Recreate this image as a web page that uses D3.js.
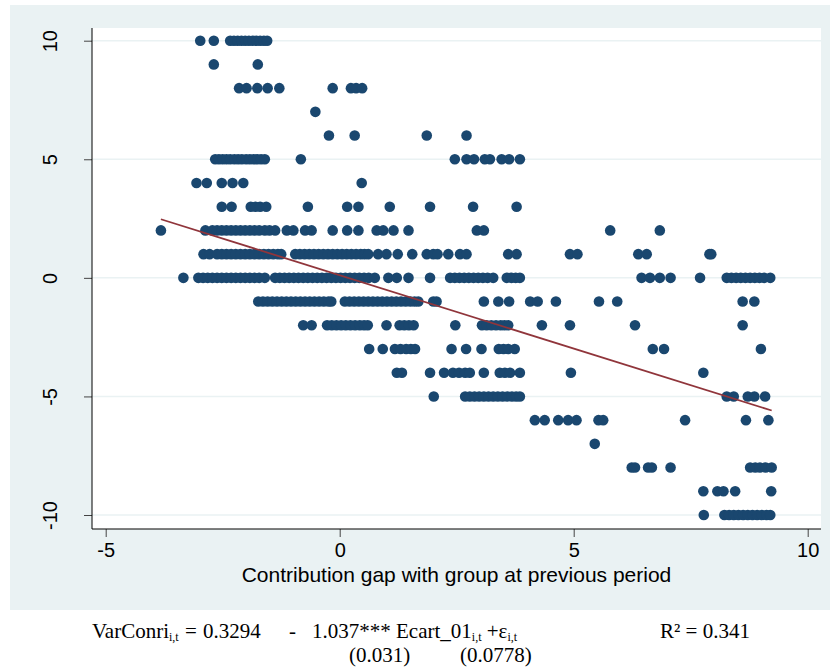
<!DOCTYPE html>
<html lang="en">
<head>
<meta charset="utf-8">
<title>Contribution gap scatter</title>
<style>
body { margin:0; background:#fff; }
text { font-family:"Liberation Sans", Arial, sans-serif; }
.eq { font-family:"Liberation Serif", "Times New Roman", serif; font-size:21px; fill:#000; }
</style>
<script src="https://cdnjs.cloudflare.com/ajax/libs/d3/7.8.5/d3.min.js"></script>
</head>
<body>
<script>
// Observed contribution change (y) by contribution gap (x), one array per y level
var yLevels = [10, 9, 8, 7, 6, 5, 4, 3, 2, 1, 0, -1, -2, -3, -4, -5, -6, -7, -8, -9, -10];
var gapAt = {};
gapAt[10] = [-2.98, -2.69, -2.34, -2.26, -2.18, -2.1, -2.02, -1.94, -1.86, -1.78, -1.7, -1.62, -1.55];
gapAt[9] = [-2.69, -1.75];
gapAt[8] = [-2.15, -1.99, -1.76, -1.54, -1.29, -0.15, 0.24, 0.35, 0.48];
gapAt[7] = [-0.52];
gapAt[6] = [-0.23, 0.32, 1.86, 2.71];
gapAt[5] = [-2.66, -2.58, -2.5, -2.42, -2.34, -2.25, -2.17, -2.09, -2.0, -1.92, -1.84, -1.76, -1.68, -1.6,
            -0.83, 2.46, 2.71, 2.87, 3.1, 3.21, 3.46, 3.62, 3.85];
gapAt[4] = [-3.06, -2.84, -2.52, -2.29, -2.06, 0.47];
gapAt[3] = [-2.52, -2.31, -1.9, -1.8, -1.7, -1.57, -0.68, 0.16, 0.4, 1.07, 1.93, 2.85, 3.78];
gapAt[2] = [-3.82, -2.87, -2.72, -2.62, -2.52, -2.42, -2.32, -2.22, -2.12, -2.02, -1.92, -1.82, -1.72, -1.6,
            -1.5, -1.38, -1.13, -0.99, -0.74, -0.6, -0.15, 0.16, 0.4, 0.79, 0.93, 1.15, 1.47, 2.93, 3.08, 5.78, 6.84];
gapAt[1] = [-2.91, -2.78, -2.62, -2.52, -2.42, -2.32, -2.22, -2.12, -2.02, -1.92, -1.82, -1.72, -1.62, -1.52,
            -1.42, -1.32, -1.25, -0.95, -0.85, -0.75, -0.65, -0.55, -0.45, -0.35, -0.25, -0.15, -0.05, 0.05,
            0.15, 0.25, 0.35, 0.45, 0.53, 0.61, 0.82, 1.0, 1.24, 1.55, 1.86, 2.0, 2.09, 2.32, 2.57, 2.71,
            3.6, 3.78, 4.92, 5.08, 6.38, 6.56, 7.9, 7.94];
gapAt[0] = [-3.34, -3.02, -2.92, -2.82, -2.72, -2.62, -2.52, -2.42, -2.32, -2.22, -2.12, -2.02, -1.92, -1.82,
            -1.72, -1.6, -1.38, -1.28, -1.18, -1.08, -0.98, -0.88, -0.78, -0.68, -0.58, -0.48, -0.38, -0.28,
            -0.18, -0.08, 0.02, 0.12, 0.22, 0.32, 0.42, 0.52, 0.62, 0.75, 1.04, 1.22, 1.47, 1.93,
            2.36, 2.46, 2.56, 2.66, 2.76, 2.86, 2.96, 3.06, 3.16, 3.28, 3.57, 3.67, 3.76, 3.85,
            6.45, 6.63, 6.84, 7.07, 7.7, 8.27, 8.37, 8.47, 8.57, 8.67, 8.77, 8.87, 8.97, 9.07, 9.2];
gapAt[-1] = [-1.74, -1.64, -1.54, -1.44, -1.34, -1.24, -1.14, -1.04, -0.94, -0.84, -0.74, -0.64, -0.54, -0.44,
             -0.34, -0.24, -0.18, 0.11, 0.21, 0.31, 0.41, 0.51, 0.61, 0.71, 0.81, 0.91, 1.01, 1.11, 1.21, 1.31,
             1.41, 1.51, 1.6, 1.68, 2.0, 2.07, 3.08, 3.39, 3.62, 4.07, 4.23, 4.62, 5.54, 5.93, 8.61, 8.86];
gapAt[-2] = [-0.78, -0.6, -0.27, -0.17, -0.07, 0.03, 0.13, 0.23, 0.33, 0.43, 0.52, 0.6, 1.0, 1.28, 1.38, 1.48,
             1.58, 2.47, 3.04, 3.14, 3.24, 3.34, 3.44, 3.52, 3.6, 4.32, 4.92, 6.31, 8.61];
gapAt[-3] = [0.63, 0.92, 1.18, 1.3, 1.42, 1.52, 1.61, 2.39, 2.7, 3.03, 3.4, 3.5, 3.6, 3.74, 6.69, 6.93, 9.0];
gapAt[-4] = [1.22, 1.33, 1.93, 2.23, 2.42, 2.55, 2.68, 2.78, 3.08, 3.42, 3.53, 3.64, 3.85, 4.94, 7.77];
gapAt[-5] = [2.01, 2.68, 2.78, 2.88, 2.98, 3.08, 3.18, 3.28, 3.38, 3.48, 3.58, 3.68, 3.77, 3.85,
             8.27, 8.42, 8.72, 8.86, 9.09];
gapAt[-6] = [4.17, 4.38, 4.67, 4.88, 5.06, 5.53, 5.63, 7.38, 8.68, 9.16];
gapAt[-7] = [5.45];
gapAt[-8] = [6.24, 6.31, 6.59, 6.67, 7.07, 8.77, 8.88, 8.98, 9.1, 9.23];
gapAt[-9] = [7.77, 8.07, 8.2, 8.45, 9.22];
gapAt[-10] = [7.78, 8.22, 8.32, 8.42, 8.52, 8.62, 8.72, 8.82, 8.92, 9.02, 9.12, 9.2];

// fitted line as drawn
var fitIntercept = 0.11,
    fitSlope = -0.618,
    fitRange = [-3.82, 9.23];

var xTicks = [-5, 0, 5, 10];
var yTicks = [-10, -5, 0, 5, 10];
var xTitle = "Contribution gap with group at previous period";

var width = 830,
    height = 670;

var svg = d3.select("body").append("svg")
    .attr("width", width)
    .attr("height", height);

// Stata-style graph region and plot region
svg.append("rect")
    .attr("x", 10).attr("y", 5)
    .attr("width", 820).attr("height", 605)
    .style("fill", "#eaf2f3");

var plot = { left: 92, right: 821, top: 28, bottom: 529 };

svg.append("rect")
    .attr("x", plot.left).attr("y", plot.top)
    .attr("width", plot.right - plot.left).attr("height", plot.bottom - plot.top)
    .style("fill", "#fff");

var x = d3.scaleLinear().domain([-5, 10]).range([105.7, 807.7]);
var y = d3.scaleLinear().domain([-10, 10]).range([515, 40.7]);

// gridlines
svg.selectAll("line.grid")
    .data(yTicks)
    .enter()
    .append("line")
        .attr("class", "grid")
        .attr("x1", plot.left).attr("x2", plot.right)
        .attr("y1", function(d) { return y(d); })
        .attr("y2", function(d) { return y(d); })
        .style("stroke", "#eaf2f3")
        .style("stroke-width", "1.5px");

// axes (plain hyphen for negatives, as in the original)
var fmt = function(d) { return String(d); };
var xAxis = d3.axisBottom(x).tickValues(xTicks).tickFormat(fmt).tickSize(8).tickPadding(6);
var yAxis = d3.axisLeft(y).tickValues(yTicks).tickFormat(fmt).tickSize(8).tickPadding(6);

var gx = svg.append("g")
    .attr("transform", "translate(0," + plot.bottom + ")")
    .call(xAxis);
gx.select(".domain").remove();
gx.append("line")
    .attr("x1", plot.left).attr("x2", plot.right)
    .style("stroke", "#000").style("stroke-width", "1px");
gx.selectAll(".tick line").style("stroke", "#444");
gx.selectAll(".tick text")
    .attr("y", 14)
    .style("font-size", "20px")
    .style("fill", "#000");

var gy = svg.append("g")
    .attr("transform", "translate(" + plot.left + ",0)")
    .call(yAxis);
gy.select(".domain").remove();
gy.append("line")
    .attr("y1", plot.top).attr("y2", plot.bottom)
    .style("stroke", "#000").style("stroke-width", "1px");
gy.selectAll(".tick line").style("stroke", "#444");
gy.selectAll(".tick text")
    .attr("x", -42).attr("dy", null)
    .attr("text-anchor", "middle")
    .attr("dominant-baseline", "central")
    .attr("transform", "rotate(-90,-42,0)")
    .style("font-size", "20px")
    .style("fill", "#000");

svg.append("text")
    .attr("x", (plot.left + plot.right) / 2)
    .attr("y", 582)
    .attr("text-anchor", "middle")
    .style("font-size", "21px")
    .text(xTitle);

// markers
var points = [];
yLevels.forEach(function(v) {
    gapAt[v].forEach(function(g) { points.push({ gap: g, change: v }); });
});

svg.append("g").selectAll("circle")
    .data(points)
    .enter()
    .append("circle")
        .attr("cx", function(d) { return x(d.gap); })
        .attr("cy", function(d) { return y(d.change); })
        .attr("r", 5.3)
        .style("fill", "#1a476f");

// fitted line
svg.append("path")
    .datum(fitRange)
    .attr("d", d3.line()
        .x(function(d) { return x(d); })
        .y(function(d) { return y(fitIntercept + fitSlope * d); }))
    .style("fill", "none")
    .style("stroke", "#90353b")
    .style("stroke-width", "1.8px");

// regression equation below the graph
var eq = svg.append("g");
function sub(t, s) {
    t.append("tspan").attr("font-size", "12px").attr("dy", 3).text(s);
}
var t1 = eq.append("text").attr("class", "eq").attr("x", 92).attr("y", 638);
t1.append("tspan").text("VarConri");
sub(t1, "i,t");

eq.append("text").attr("class", "eq").attr("x", 185).attr("y", 638).text("=");
eq.append("text").attr("class", "eq").attr("x", 203).attr("y", 638).text("0.3294");
eq.append("text").attr("class", "eq").attr("x", 289).attr("y", 638).text("-");

var t2 = eq.append("text").attr("class", "eq").attr("x", 312).attr("y", 638);
t2.append("tspan").text("1.037*** Ecart_01");
sub(t2, "i,t");
t2.append("tspan").attr("dy", -3).text(" +ε");
sub(t2, "i,t");

eq.append("text").attr("class", "eq").attr("x", 660).attr("y", 638).text("R² = 0.341");
eq.append("text").attr("class", "eq").attr("x", 349).attr("y", 662).text("(0.031)");
eq.append("text").attr("class", "eq").attr("x", 460).attr("y", 662).text("(0.0778)");
</script>
</body>
</html>
